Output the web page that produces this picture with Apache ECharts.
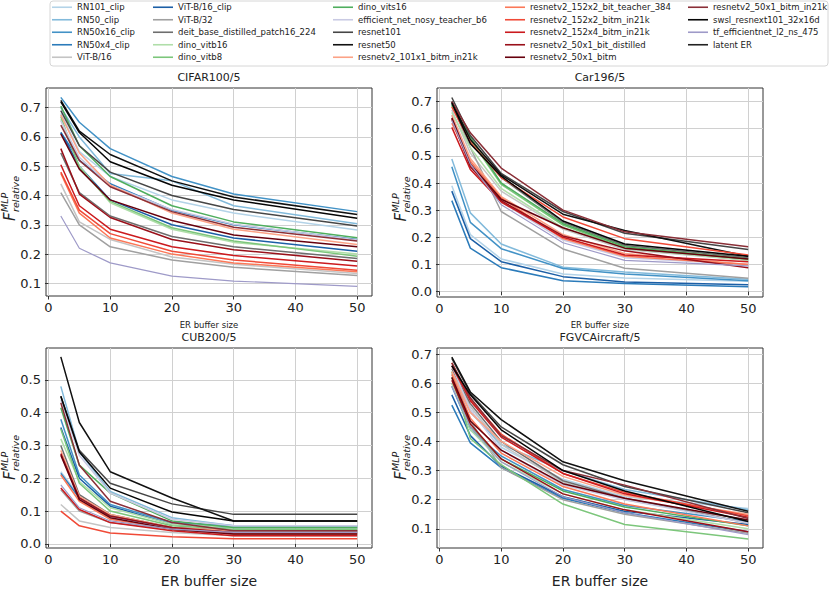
<!DOCTYPE html>
<html>
<head>
<meta charset="utf-8">
<script src="https://cdn.jsdelivr.net/npm/echarts@6/dist/echarts.min.js"></script>
<style>
  html, body { margin: 0; padding: 0; background: #fff; }
  #chart { width: 831px; height: 589px; }
</style>
</head>
<body>
<div id="chart"></div>
<script>
// x values (ER buffer size)
const bufferSizes = [2, 5, 10, 20, 30, 50]
const xTicks = [0, 10, 20, 30, 40, 50]

const modelNames = [
  'RN101_clip', 'RN50_clip', 'RN50x16_clip', 'RN50x4_clip', 'ViT-B/16',
  'ViT-B/16_clip', 'ViT-B/32', 'deit_base_distilled_patch16_224', 'dino_vitb16', 'dino_vitb8',
  'dino_vits16', 'efficient_net_nosy_teacher_b6', 'resnet101', 'resnet50', 'resnetv2_101x1_bitm_in21k',
  'resnetv2_152x2_bit_teacher_384', 'resnetv2_152x2_bitm_in21k', 'resnetv2_152x4_bitm_in21k',
  'resnetv2_50x1_bit_distilled', 'resnetv2_50x1_bitm',
  'resnetv2_50x1_bitm_in21k', 'swsl_resnext101_32x16d', 'tf_efficientnet_l2_ns_475'
]
const extraLegend = 'latent ER'

const modelColors = [
  '#b3d3e8', '#82badb', '#4292c6', '#2b7bba', '#c4c4c4',
  '#1c5fa6', '#a0a0a0', '#6e6e6e', '#b0dea9', '#7cc67b',
  '#4fae5e', '#c9cae3', '#464646', '#111111', '#fca286',
  '#fb7858', '#f04a37', '#cb1a1e', '#99101a', '#67000d',
  '#8a2f37', '#050505', '#9e9ac8'
]

// rows follow modelNames, columns follow bufferSizes
const cifarValues = [
  [0.68, 0.55, 0.465, 0.385, 0.34, 0.282],
  [0.70, 0.60, 0.475, 0.45, 0.365, 0.304],
  [0.735, 0.65, 0.56, 0.465, 0.405, 0.345],
  [0.615, 0.52, 0.44, 0.35, 0.30, 0.25],
  [0.44, 0.31, 0.25, 0.19, 0.165, 0.134],
  [0.615, 0.50, 0.385, 0.30, 0.255, 0.21],
  [0.41, 0.30, 0.225, 0.18, 0.155, 0.127],
  [0.545, 0.41, 0.33, 0.26, 0.225, 0.185],
  [0.66, 0.50, 0.375, 0.285, 0.24, 0.20],
  [0.67, 0.495, 0.38, 0.29, 0.245, 0.193],
  [0.705, 0.57, 0.465, 0.365, 0.31, 0.256],
  [0.655, 0.53, 0.435, 0.352, 0.302, 0.248],
  [0.69, 0.57, 0.48, 0.40, 0.352, 0.296],
  [0.725, 0.62, 0.54, 0.45, 0.395, 0.335],
  [0.675, 0.545, 0.435, 0.34, 0.285, 0.233],
  [0.475, 0.34, 0.255, 0.20, 0.17, 0.14],
  [0.48, 0.35, 0.27, 0.21, 0.18, 0.145],
  [0.505, 0.365, 0.285, 0.225, 0.195, 0.159],
  [0.56, 0.405, 0.325, 0.25, 0.215, 0.176],
  [0.61, 0.49, 0.385, 0.315, 0.265, 0.225],
  [0.64, 0.52, 0.43, 0.345, 0.292, 0.245],
  [0.72, 0.615, 0.515, 0.435, 0.385, 0.322],
  [0.33, 0.22, 0.17, 0.125, 0.108, 0.09]
]

const carValues = [
  [0.39, 0.21, 0.12, 0.065, 0.05, 0.038],
  [0.488, 0.29, 0.175, 0.09, 0.072, 0.045],
  [0.46, 0.255, 0.158, 0.085, 0.065, 0.04],
  [0.335, 0.16, 0.088, 0.04, 0.03, 0.018],
  [0.67, 0.51, 0.37, 0.23, 0.155, 0.115],
  [0.37, 0.195, 0.11, 0.055, 0.035, 0.025],
  [0.69, 0.53, 0.295, 0.157, 0.086, 0.049],
  [0.70, 0.555, 0.42, 0.255, 0.17, 0.125],
  [0.66, 0.53, 0.38, 0.235, 0.16, 0.115],
  [0.685, 0.56, 0.395, 0.245, 0.16, 0.12],
  [0.69, 0.57, 0.40, 0.25, 0.165, 0.12],
  [0.65, 0.48, 0.33, 0.19, 0.125, 0.10],
  [0.715, 0.575, 0.435, 0.295, 0.215, 0.155],
  [0.70, 0.56, 0.43, 0.285, 0.225, 0.13],
  [0.65, 0.49, 0.35, 0.21, 0.14, 0.10],
  [0.62, 0.48, 0.345, 0.195, 0.13, 0.10],
  [0.68, 0.55, 0.42, 0.275, 0.195, 0.135],
  [0.605, 0.45, 0.33, 0.20, 0.135, 0.11],
  [0.635, 0.46, 0.335, 0.205, 0.15, 0.088],
  [0.64, 0.47, 0.34, 0.235, 0.16, 0.12],
  [0.70, 0.585, 0.455, 0.30, 0.22, 0.165],
  [0.695, 0.545, 0.425, 0.26, 0.175, 0.13],
  [0.63, 0.47, 0.32, 0.18, 0.115, 0.095]
]

const cubValues = [
  [0.22, 0.145, 0.08, 0.045, 0.035, 0.035],
  [0.48, 0.28, 0.16, 0.08, 0.055, 0.055],
  [0.38, 0.21, 0.12, 0.065, 0.055, 0.055],
  [0.215, 0.14, 0.085, 0.05, 0.04, 0.04],
  [0.12, 0.07, 0.05, 0.035, 0.025, 0.025],
  [0.355, 0.20, 0.115, 0.06, 0.05, 0.05],
  [0.165, 0.10, 0.065, 0.045, 0.03, 0.03],
  [0.30, 0.15, 0.09, 0.05, 0.04, 0.04],
  [0.32, 0.19, 0.11, 0.06, 0.05, 0.05],
  [0.35, 0.185, 0.10, 0.055, 0.045, 0.045],
  [0.415, 0.24, 0.155, 0.07, 0.05, 0.05],
  [0.44, 0.27, 0.155, 0.075, 0.055, 0.055],
  [0.45, 0.285, 0.185, 0.122, 0.09, 0.09],
  [0.57, 0.37, 0.22, 0.14, 0.07, 0.07],
  [0.285, 0.145, 0.09, 0.05, 0.04, 0.04],
  [0.21, 0.13, 0.075, 0.045, 0.03, 0.03],
  [0.10, 0.055, 0.033, 0.022, 0.016, 0.016],
  [0.17, 0.105, 0.065, 0.04, 0.025, 0.025],
  [0.275, 0.14, 0.085, 0.05, 0.035, 0.035],
  [0.27, 0.135, 0.08, 0.045, 0.03, 0.03],
  [0.43, 0.24, 0.13, 0.065, 0.04, 0.04],
  [0.45, 0.28, 0.17, 0.097, 0.07, 0.07],
  [0.18, 0.11, 0.07, 0.045, 0.035, 0.035]
]

const fgvcValues = [
  [0.62, 0.52, 0.38, 0.27, 0.21, 0.17],
  [0.63, 0.50, 0.39, 0.30, 0.235, 0.165],
  [0.59, 0.44, 0.35, 0.235, 0.18, 0.125],
  [0.525, 0.395, 0.31, 0.205, 0.155, 0.09],
  [0.64, 0.52, 0.39, 0.26, 0.20, 0.13],
  [0.56, 0.42, 0.315, 0.21, 0.16, 0.115],
  [0.60, 0.47, 0.31, 0.20, 0.15, 0.085],
  [0.65, 0.53, 0.40, 0.265, 0.205, 0.12],
  [0.60, 0.44, 0.33, 0.22, 0.165, 0.10],
  [0.64, 0.41, 0.32, 0.185, 0.115, 0.065],
  [0.62, 0.45, 0.34, 0.23, 0.175, 0.11],
  [0.66, 0.51, 0.37, 0.25, 0.20, 0.12],
  [0.685, 0.565, 0.45, 0.32, 0.245, 0.155],
  [0.69, 0.57, 0.475, 0.33, 0.265, 0.16],
  [0.64, 0.50, 0.40, 0.28, 0.215, 0.15],
  [0.63, 0.48, 0.36, 0.245, 0.185, 0.11],
  [0.67, 0.545, 0.425, 0.29, 0.225, 0.145],
  [0.66, 0.54, 0.415, 0.29, 0.22, 0.14],
  [0.61, 0.46, 0.34, 0.22, 0.165, 0.09],
  [0.62, 0.47, 0.37, 0.255, 0.205, 0.13],
  [0.67, 0.55, 0.42, 0.30, 0.25, 0.135],
  [0.66, 0.56, 0.44, 0.30, 0.23, 0.125],
  [0.59, 0.45, 0.33, 0.21, 0.155, 0.08]
]

const cifarTicks = [0.1, 0.2, 0.3, 0.4, 0.5, 0.6, 0.7]
const carTicks = [0.0, 0.1, 0.2, 0.3, 0.4, 0.5, 0.6, 0.7]
const cubTicks = [0.0, 0.1, 0.2, 0.3, 0.4, 0.5]
const fgvcTicks = [0.1, 0.2, 0.3, 0.4, 0.5, 0.6, 0.7]

// panel layout (pixel boxes + axis ranges with matplotlib-like margins)
const panels = [
  { title: 'CIFAR100/5', values: cifarValues, ticks: cifarTicks, yMin: 0.057, yMax: 0.767,
    left: 46, top: 88, width: 326, height: 208, xNameSize: 8.5, xNameGap: 24 },
  { title: 'Car196/5', values: carValues, ticks: carTicks, yMin: -0.02, yMax: 0.75,
    left: 437, top: 88, width: 326, height: 209, xNameSize: 8.5, xNameGap: 23 },
  { title: 'CUB200/5', values: cubValues, ticks: cubTicks, yMin: -0.0125, yMax: 0.597,
    left: 46, top: 348, width: 326, height: 206, xNameSize: 14, xNameGap: 26 },
  { title: 'FGVCAircraft/5', values: fgvcValues, ticks: fgvcTicks, yMin: 0.034, yMax: 0.721,
    left: 437, top: 348, width: 326, height: 206, xNameSize: 14, xNameGap: 26 }
]

const font = 'DejaVu Sans'
const chart = echarts.init(document.getElementById('chart'), null, { renderer: 'svg' })

const grids = [], xAxes = [], yAxes = [], series = [], graphics = []

panels.forEach((p, k) => {
  grids.push({ left: p.left, top: p.top, width: p.width, height: p.height,
    show: true, borderColor: '#333', borderWidth: 1, backgroundColor: 'transparent' })
  xAxes.push({
    type: 'value', gridIndex: k, min: -0.4, max: 52.4,
    name: 'ER buffer size', nameLocation: 'middle', nameGap: p.xNameGap,
    nameTextStyle: { fontFamily: font, fontSize: p.xNameSize, color: '#222' },
    axisLine: { show: false },
    axisTick: { show: true, length: 3.5, lineStyle: { color: '#333' }, customValues: xTicks },
    axisLabel: { customValues: xTicks, fontFamily: font, fontSize: 13, color: '#222', margin: 5 },
    splitLine: { show: true, lineStyle: { color: '#d0d0d0', width: 1 } }
  })
  yAxes.push({
    type: 'value', gridIndex: k, min: p.yMin, max: p.yMax,
    axisLine: { show: false },
    axisTick: { show: true, length: 3.5, lineStyle: { color: '#333' }, customValues: p.ticks },
    axisLabel: { customValues: p.ticks, fontFamily: font, fontSize: 13, color: '#222', margin: 5,
      formatter: (v) => v.toFixed(1) },
    splitLine: { show: true, lineStyle: { color: '#d0d0d0', width: 1 } }
  })
  p.values.forEach((row, i) => {
    series.push({
      type: 'line', name: modelNames[i], xAxisIndex: k, yAxisIndex: k,
      data: bufferSizes.map((x, j) => [x, row[j]]),
      symbol: 'none', silent: true, animation: false,
      lineStyle: { color: modelColors[i], width: i === 22 ? 1.2 : 1.5 },
      itemStyle: { color: modelColors[i] }
    })
  })
  // legend-only entry
  series.push({
    type: 'line', name: extraLegend, xAxisIndex: k, yAxisIndex: k, data: [],
    symbol: 'none', silent: true, animation: false,
    lineStyle: { color: '#222', width: 1.2 }, itemStyle: { color: '#222' }
  })

  // title
  graphics.push({
    type: 'text', x: p.left + p.width / 2, y: p.top - 11,
    style: { text: p.title, font: `11px "${font}"`, fill: '#222', align: 'center', verticalAlign: 'middle' }
  })
  // y label: F^{MLP}_{relative}
  const lx = p.left < 100 ? 10 : 401
  const ly = p.top + p.height / 2 + 4
  graphics.push({
    type: 'group', x: lx, y: ly, rotation: Math.PI / 2,
    children: [
      { type: 'text', x: -25, y: 0,
        style: { text: 'F', font: `italic 15px "${font}"`, fill: '#222', align: 'left', verticalAlign: 'middle' } },
      { type: 'text', x: -16, y: -5.5,
        style: { text: 'MLP', font: `italic 9.5px "${font}"`, fill: '#222', align: 'left', verticalAlign: 'middle' } },
      { type: 'text', x: -16, y: 5,
        style: { text: 'relative', font: `italic 9.5px "${font}"`, fill: '#222', align: 'left', verticalAlign: 'middle' } }
    ]
  })
})

// legend frame
graphics.push({
  type: 'rect', shape: { x: 50, y: 1, width: 778, height: 65, r: 3 },
  style: { fill: '#fff', stroke: '#d6d6d6', lineWidth: 1 }, z: -1
})

const legendNames = modelNames.concat([extraLegend])
const legendCols = [52, 153, 333, 505, 688]
const legends = legendCols.map((x, c) => ({
  data: legendNames.slice(c * 5, c * 5 + 5),
  orient: 'vertical', left: x, top: 1, padding: 0,
  icon: 'rect', itemWidth: 20, itemHeight: 1.6, itemGap: 0,
  selectedMode: false,
  textStyle: { fontFamily: font, fontSize: 8.5, color: '#222', lineHeight: 12.5 }
}))

chart.setOption({
  animation: false,
  grid: grids,
  xAxis: xAxes,
  yAxis: yAxes,
  legend: legends,
  graphic: graphics,
  series: series
})
</script>
</body>
</html>
